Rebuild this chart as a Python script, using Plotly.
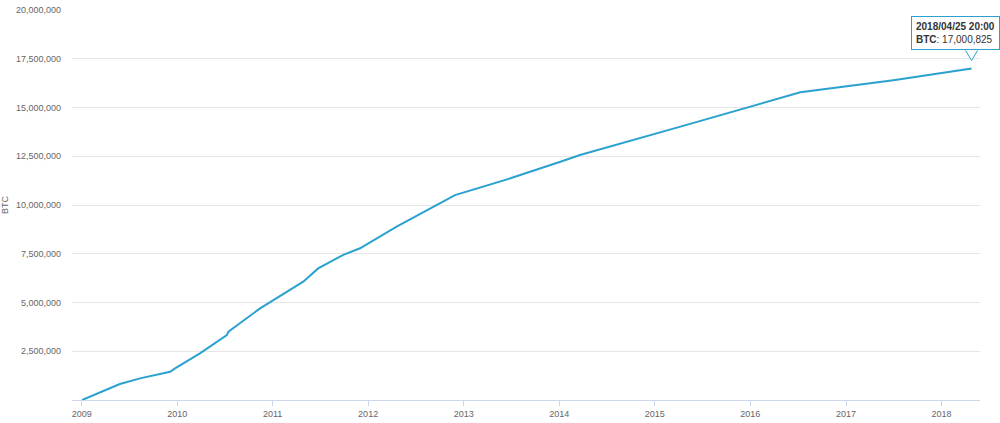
import plotly.graph_objects as go

dates = ["2009-01-03", "2009-05-27", "2009-08-12", "2009-12-05", "2009-12-24",
         "2010-03-29", "2010-07-10", "2010-07-16", "2010-11-14", "2011-01-04",
         "2011-03-09", "2011-04-28", "2011-06-24", "2011-09-28", "2011-12-01",
         "2012-04-19", "2012-11-28", "2013-06-28", "2014-01-05", "2014-03-21",
         "2015-04-09", "2016-02-08", "2016-07-10", "2017-07-01", "2018-04-25 20:00"]
btc = [0, 820000, 1110000, 1450000, 1620000,
       2390000, 3330000, 3500000, 4700000, 5130000,
       5640000, 6070000, 6750000, 7440000, 7780000,
       8890000, 10510000, 11370000, 12220000, 12560000,
       14020000, 15210000, 15780000, 16400000, 17000825]

y_ticks = [2500000, 5000000, 7500000, 10000000, 12500000, 15000000, 17500000, 20000000]
x_ticks = [f"{y}-01-01" for y in range(2009, 2019)]
x_labels = [str(y) for y in range(2009, 2019)]

color = "#2ba1d0"
font_family = "Liberation Sans, Arial, sans-serif"
fig = go.Figure()
fig.add_trace(go.Scatter(x=dates, y=btc, mode="lines",
                         line=dict(color=color, width=2), hoverinfo="skip"))

fig.update_layout(
    width=1000, height=423,
    margin=dict(l=72, r=20, t=10, b=23, autoexpand=False),
    paper_bgcolor="white", plot_bgcolor="white",
    showlegend=False,
    font=dict(family=font_family, size=9, color="#666666"),
    xaxis=dict(range=["2008-11-25", "2018-05-28"], tickvals=x_ticks, ticktext=x_labels,
               showgrid=False, showline=True, linecolor="#ccd6eb", linewidth=1,
               ticks="outside", ticklen=5, tickcolor="#ccd6eb", zeroline=False,
               automargin=False,
               tickfont=dict(size=9, color="#666666")),
    yaxis=dict(range=[0, 20000000], tickvals=y_ticks, tickformat=",d",
               showgrid=True, gridcolor="#e6e6e6", gridwidth=1, zeroline=False,
               showline=False, ticks="", ticklabelstandoff=10, automargin=False,
               title=dict(text="BTC", standoff=6, font=dict(size=9, color="#666666")),
               tickfont=dict(size=9, color="#666666")),
)

# tooltip box
fig.add_annotation(
    x=dates[-1], y=btc[-1], xref="x", yref="y",
    text="<b>2018/04/25 20:00</b><br><b>BTC</b>: 17,000,825",
    showarrow=False, xanchor="right", yanchor="bottom", align="left",
    xshift=28, yshift=18,
    bgcolor="white", bordercolor=color, borderwidth=1, borderpad=4,
    font=dict(family=font_family, size=10, color="#333333"),
)
# notch of the tooltip
fig.add_shape(type="path", xref="x", yref="y", xsizemode="pixel", ysizemode="pixel",
              xanchor=dates[-1], yanchor=btc[-1],
              path="M -6,18 L 0,8 L 6,18",
              line=dict(color=color, width=1), fillcolor="white", layer="above")

fig.write_html("out.html", config={"displayModeBar": False},
               post_script="document.body.style.margin='0';")
